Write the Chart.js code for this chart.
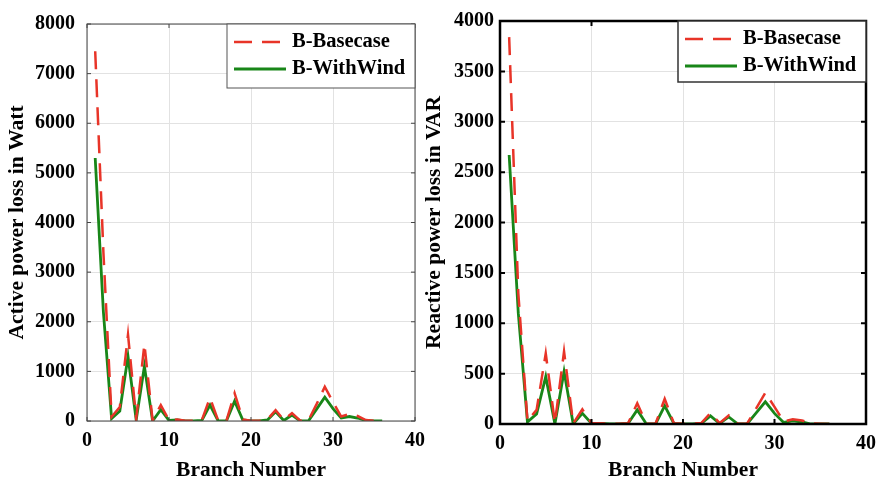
<!DOCTYPE html>
<html>
<head>
<meta charset="utf-8">
<script src="https://cdn.jsdelivr.net/npm/chart.js@4.4.0/dist/chart.umd.min.js"></script>
<style>
  body { margin: 0; background: #fff; }
  canvas { position: absolute; top: 0; }
  #izq { left: 0; }
  #der { left: 415px; }
</style>
</head>
<body>
<canvas id="izq" width="440" height="487"></canvas>
<canvas id="der" width="469" height="487"></canvas>
<script>
// Datos
const ramas = [1,2,3,4,5,6,7,8,9,10,11,12,13,14,15,16,17,18,19,20,21,22,23,24,25,26,27,28,29,30,31,32,33,34,35,36];

const activaBase = [7450,3400,85,280,1740,50,1550,10,320,15,30,5,5,15,470,5,5,560,30,5,5,30,220,20,160,5,10,340,690,380,90,140,100,20,5,0];
const activaViento = [5300,2200,50,200,1300,20,1100,0,230,10,20,0,0,10,320,0,0,400,20,0,0,20,185,10,120,0,0,240,480,250,60,90,60,10,0,0];

const reactivaBase = [3840,1300,30,140,700,10,720,5,145,8,8,2,2,8,205,2,2,250,8,2,2,10,108,8,85,2,4,155,310,170,25,46,35,5,2,0];
const reactivaViento = [2670,1100,20,100,470,0,520,0,105,5,5,0,0,5,140,0,0,180,5,0,0,5,80,5,70,0,0,110,220,105,15,30,20,0,0,0];

const ticksX = [0, 10, 20, 30, 40];

const fuente = { family: 'Liberation Serif', weight: 'bold', size: 20 };
const fuenteTitulo = { family: 'Liberation Serif', weight: 'bold', size: 21.5 };
const rojo = 'rgb(232,52,40)';
const verde = 'rgb(24,134,24)';

// marco, marcas hacia dentro y leyenda dentro del area
const marco = {
  id: 'marco',
  afterDatasetsDraw(chart, args, o) {
    const { ctx, chartArea: a, scales: { x, y } } = chart;
    ctx.save();
    ctx.strokeStyle = o.color;
    ctx.lineWidth = o.tickWidth;
    ctx.beginPath();
    y.ticks.forEach(t => {
      const py = y.getPixelForValue(t.value);
      ctx.moveTo(a.left, py); ctx.lineTo(a.left + o.tick, py);
      ctx.moveTo(a.right, py); ctx.lineTo(a.right - o.tick, py);
    });
    x.ticks.forEach(t => {
      const px = x.getPixelForValue(t.value);
      ctx.moveTo(px, a.bottom); ctx.lineTo(px, a.bottom - o.tick);
      ctx.moveTo(px, a.top); ctx.lineTo(px, a.top + o.tick);
    });
    ctx.stroke();
    ctx.lineWidth = o.width;
    ctx.strokeRect(a.left, a.top, a.width, a.height);

    // leyenda
    const bw = 188, bh = o.legendH;
    const bx = a.right - bw, by = a.top;
    ctx.fillStyle = '#fff';
    ctx.fillRect(bx, by, bw, bh);
    ctx.strokeStyle = o.legendColor;
    ctx.lineWidth = o.legendWidth;
    ctx.strokeRect(bx, by, bw, bh);
    ctx.font = 'bold 20.5px "Liberation Serif"';
    ctx.textBaseline = 'middle';
    const filas = [18, 45];
    chart.data.datasets.forEach((d, i) => {
      const yy = by + filas[i];
      ctx.strokeStyle = d.borderColor;
      ctx.lineWidth = d.borderWidth;
      ctx.setLineDash(d.borderDash || []);
      ctx.beginPath();
      ctx.moveTo(bx + 7, yy); ctx.lineTo(bx + 59, yy);
      ctx.stroke();
      ctx.setLineDash([]);
      ctx.fillStyle = '#000';
      ctx.fillText(d.label, bx + 65, yy);
    });
    ctx.restore();
  }
};

function crearGrafico(id, base, viento, cfg) {
  const ctx = document.getElementById(id).getContext('2d');
  return new Chart(ctx, {
    type: 'line',
    data: {
      datasets: [
        {
          label: 'B-Basecase',
          data: ramas.map((r, i) => ({ x: r, y: base[i] })),
          borderColor: rojo,
          borderWidth: 2.5,
          borderDash: [18, 10],
          pointRadius: 0,
          tension: 0,
          fill: false
        },
        {
          label: 'B-WithWind',
          data: ramas.map((r, i) => ({ x: r, y: viento[i] })),
          borderColor: verde,
          borderWidth: 2.8,
          pointRadius: 0,
          tension: 0,
          fill: false
        }
      ]
    },
    options: {
      responsive: false,
      animation: false,
      devicePixelRatio: 1,
      layout: { padding: { left: 0, right: cfg.padRight, top: cfg.padTop, bottom: 0 } },
      plugins: {
        legend: { display: false },
        tooltip: { enabled: false },
        marco: cfg.marco
      },
      scales: {
        x: {
          type: 'linear',
          min: 0,
          max: 40,
          afterBuildTicks: s => { s.ticks = ticksX.map(v => ({ value: v })); },
          ticks: { color: '#000', font: fuente, padding: 8, maxRotation: 0, callback: v => String(v) },
          grid: { color: '#e2e2e2', lineWidth: 1, drawTicks: false },
          border: { display: false },
          title: { display: true, text: 'Branch Number', color: '#000', font: fuenteTitulo, padding: { top: 0, bottom: 4 } },
          afterFit: s => { s.height = cfg.xHeight; }
        },
        y: {
          min: 0,
          max: cfg.yMax,
          ticks: { stepSize: cfg.yStep, color: '#000', font: fuente, padding: cfg.tickPad, callback: v => String(v) },
          grid: { color: '#e2e2e2', lineWidth: 1, drawTicks: false },
          border: { display: false },
          title: { display: true, text: cfg.yTitle, color: '#000', font: fuenteTitulo, padding: { top: cfg.titlePad, bottom: 0 } },
          afterFit: s => { s.width = cfg.yWidth; }
        }
      }
    },
    plugins: [marco]
  });
}

crearGrafico('izq', activaBase, activaViento, {
  yMax: 8000, yStep: 1000, yTitle: 'Active power loss in Watt',
  padRight: 25, padTop: 16, xHeight: 66, yWidth: 87, tickPad: 12, titlePad: 5,
  marco: { color: '#444', width: 1, tick: 4, tickWidth: 1, legendH: 64, legendColor: '#555', legendWidth: 1 }
});

crearGrafico('der', reactivaBase, reactivaViento, {
  yMax: 4000, yStep: 500, yTitle: 'Reactive power loss in VAR',
  padRight: 16, padTop: 21, xHeight: 63, yWidth: 85, tickPad: 6, titlePad: 7,
  marco: { color: '#000', width: 2.5, tick: 5, tickWidth: 2, legendH: 61, legendColor: '#333', legendWidth: 1.5 }
});
</script>
</body>
</html>
